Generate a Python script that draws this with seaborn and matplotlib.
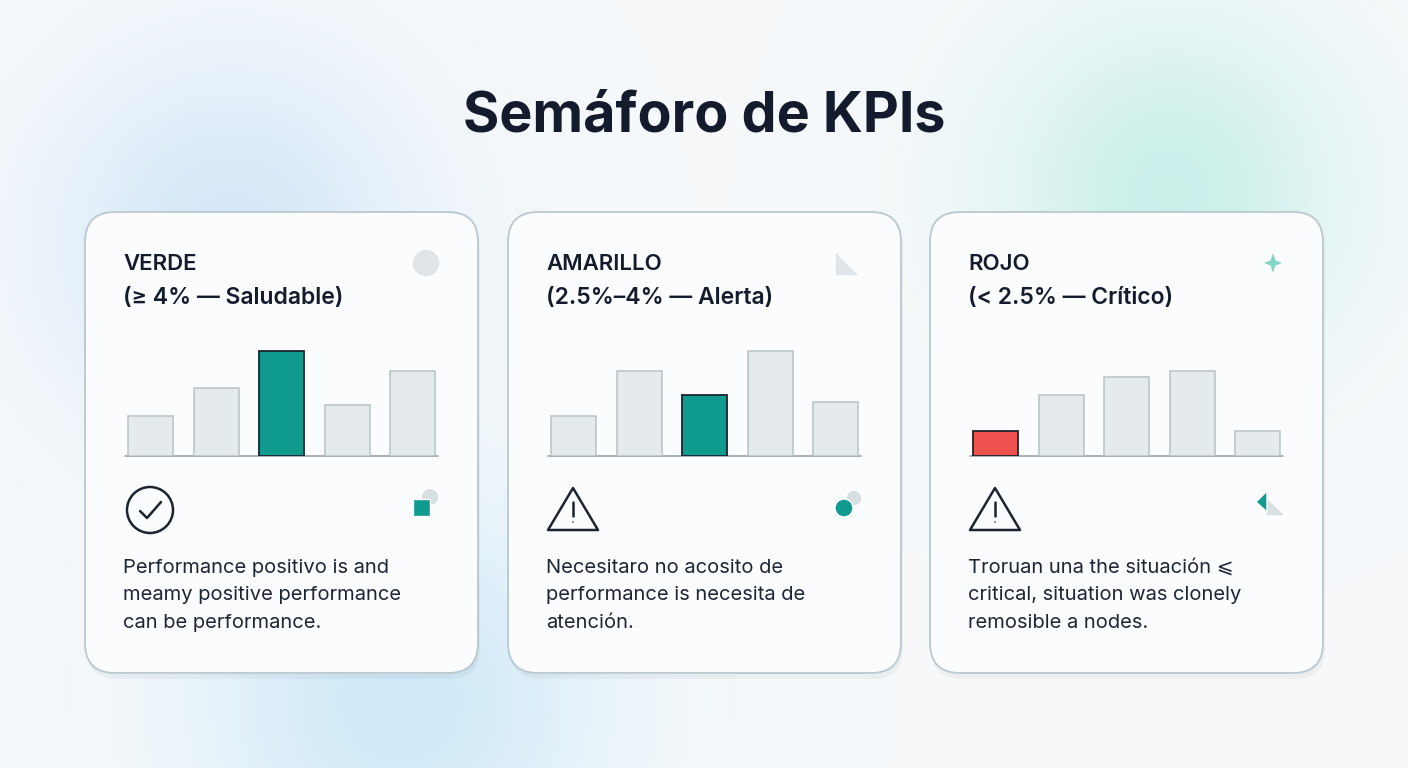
import numpy as np
import matplotlib
matplotlib.use("Agg")
import matplotlib.pyplot as plt
import seaborn as sns
import pandas as pd
from matplotlib.patches import FancyBboxPatch, Circle, Polygon, Rectangle

sns.set_theme(style="white")
plt.rcParams['font.family'] = ['Inter', 'DejaVu Sans']

title = "Semáforo de KPIs"
card_titles = ["VERDE", "AMARILLO", "ROJO"]
card_subtitles = ["(≥ 4% — Saludable)", "(2.5%–4% — Alerta)", "(< 2.5% — Crítico)"]
card_texts = [
    ["Performance positivo is and", "meamy positive performance", "can be performance."],
    ["Necesitaro no acosito de", "performance is necesita de", "atención."],
    ["Troruan una the situación ⩽", "critical, situation was clonely", "remosible a nodes."],
]
categories = ["A", "B", "C", "D", "E"]
values = [
    [40, 68, 105, 51, 85],
    [40, 85, 61, 105, 54],
    [25, 61, 79, 85, 25],
]
highlight = [2, 2, 0]
hl_colors = ["#0f9b8e", "#0f9b8e", "#ef5350"]

W, H = 1408, 768
fig = plt.figure(figsize=(W/100, H/100), dpi=100)
bg = fig.add_axes([0, 0, 1, 1])
bg.set_xlim(0, W); bg.set_ylim(H, 0); bg.axis("off")

yy, xx = np.mgrid[0:H, 0:W]
img = np.ones((H, W, 3)) * np.array([0.965, 0.976, 0.984])
def glow(cx, cy, r, col, a):
    g = np.exp(-(((xx-cx)**2 + (yy-cy)**2) / (2*r**2)))[..., None] * a
    return g, np.array(col)
for cx, cy, r, col, a in [(230, 240, 130, (0.78, 0.88, 0.97), 0.7),
                          (400, 700, 140, (0.75, 0.89, 0.97), 0.7),
                          (1170, 190, 120, (0.75, 0.93, 0.90), 0.8)]:
    g, c = glow(cx, cy, r, col, a)
    img = img*(1-g) + c*g
bg.imshow(img, extent=[0, W, H, 0], zorder=0)

bg.text(W/2, 116, title, ha="center", va="center", fontsize=40, fontweight="bold", color="#141b2d", zorder=5)

card_x = [85, 508, 930]
cw, ch, cy0 = 393, 461, 212
for i, x0 in enumerate(card_x):
    bg.add_patch(FancyBboxPatch((x0+2, cy0+6), cw, ch, boxstyle="round,pad=0,rounding_size=30",
                                fc="#000000", ec="none", alpha=0.04, zorder=1))
    bg.add_patch(FancyBboxPatch((x0, cy0), cw, ch, boxstyle="round,pad=0,rounding_size=30",
                                fc="#fbfcfd", ec="#b9c9cf", lw=1.3, zorder=2))
    tx = x0 + 38
    bg.text(tx, 264, card_titles[i], fontsize=16, fontweight="semibold", color="#141b2d", va="center", zorder=5)
    bg.text(tx, 298, card_subtitles[i], fontsize=16.5, fontweight="semibold", color="#141b2d", va="center", zorder=5)
    for j, line in enumerate(card_texts[i]):
        bg.text(tx, 568 + j*27.5, line, fontsize=14.5, color="#1e2535", va="center", zorder=5)
    bg.plot([x0+40, x0+353], [456, 456], color="#9aa5ab", lw=1.2, zorder=6)

    ax = fig.add_axes([(x0+33)/W, 1-456/H, 327.5/W, 120/H])
    df = pd.DataFrame({"cat": categories, "val": values[i]})
    cols = ["#e5eaec"]*5
    cols[highlight[i]] = hl_colors[i]
    sns.barplot(data=df, x="cat", y="val", hue="cat", palette=cols, legend=False, ax=ax,
                width=0.69, saturation=1, edgecolor="#b8c2c6", linewidth=1.1)
    for k, p in enumerate(ax.patches):
        if k == highlight[i]:
            p.set_edgecolor("#1b2430"); p.set_linewidth(1.3)
    ax.set_ylim(0, 120); ax.set_xlim(-0.5, 4.5)
    ax.axis("off"); ax.patch.set_alpha(0)

    ix, iy = x0 + 65, 510
    if i == 0:
        bg.add_patch(Circle((ix, iy), 23, fill=False, ec="#1b2430", lw=1.8, zorder=6))
        bg.plot([ix-10, ix-3, ix+11], [iy+1, iy+8, iy-8], color="#1b2430", lw=1.8, zorder=7)
        bg.add_patch(Rectangle((x0+328, 499), 17, 17, fc="#0f9b8e", zorder=6))
        bg.add_patch(Circle((x0+345, 497), 8, fc="#d8dfe2", ec="none", zorder=5))
        bg.add_patch(Circle((x0+341, 263), 14, fc="#dfe5e8", zorder=5))
    else:
        bg.add_patch(Polygon([[ix, iy-22], [ix+25, iy+20], [ix-25, iy+20]], closed=True,
                             fill=False, ec="#1b2430", lw=1.8, joinstyle="round", zorder=6))
        bg.plot([ix, ix], [iy-8, iy+6], color="#1b2430", lw=1.8, zorder=7)
        bg.add_patch(Circle((ix, iy+12), 1.5, fc="#1b2430", zorder=7))
    if i == 1:
        bg.add_patch(Circle((x0+336, 508), 9, fc="#0f9b8e", zorder=6))
        bg.add_patch(Circle((x0+346, 498), 8, fc="#d8dfe2", zorder=5))
        bg.add_patch(Polygon([[x0+327, 251], [x0+352, 276], [x0+327, 276]], fc="#dfe5e8", zorder=5))
    if i == 2:
        bg.add_patch(Polygon([[x0+336, 497], [x0+356, 516], [x0+336, 516]], fc="#d8dfe2", zorder=5))
        bg.add_patch(Polygon([[x0+337, 491], [x0+326, 502], [x0+337, 512]], fc="#0f9b8e", zorder=6))
        sx, sy = x0 + 343, 263
        bg.add_patch(Polygon([[sx, sy-12], [sx+3, sy-3], [sx+11, sy], [sx+3, sy+3], [sx, sy+12],
                              [sx-3, sy+3], [sx-11, sy], [sx-3, sy-3]], fc="#7fd6c9", zorder=5))

fig.savefig("out.png", dpi=100)
